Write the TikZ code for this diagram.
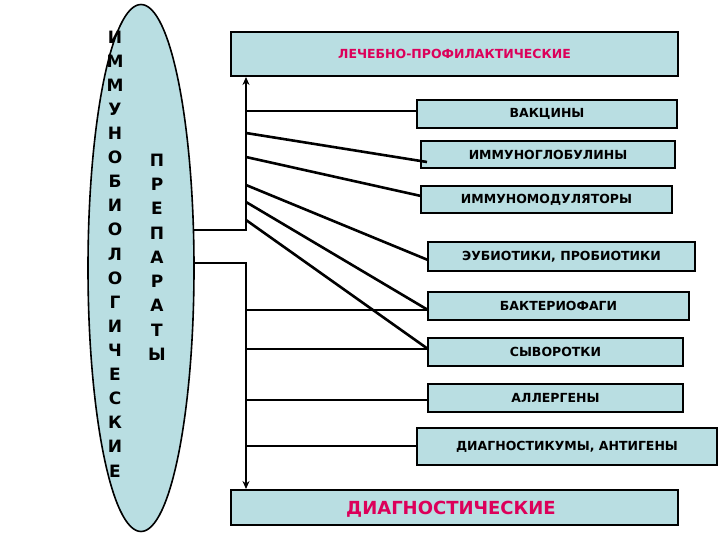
\documentclass[tikz,border=0pt]{standalone}
\usepackage{fontspec}
\setmainfont{DejaVu Sans}
\usetikzlibrary{arrows.meta,shapes.geometric}
\definecolor{boxc}{RGB}{185,222,226}
\definecolor{redt}{RGB}{220,0,90}
\begin{document}
\begin{tikzpicture}[x=1pt,y=-1pt,
  bx/.style={draw=black,line width=1.8pt,fill=boxc},
  ln/.style={line width=2.6pt},
  lab/.style={font=\bfseries\fontsize{12.5}{13}\selectfont},
  let/.style={font=\bfseries\fontsize{17}{17}\selectfont}]
\useasboundingbox (0,0) rectangle (720,540);
\node[ellipse,draw=black,line width=1.6pt,fill=boxc,minimum width=106pt,minimum height=527pt,inner sep=0pt] (E) at (141,268) {};
\foreach \c [count=\i from 0] in {И,М,М,У,Н,О,Б,И,О,Л,О,Г,И,Ч,Е,С,К,И,Е}
  \node[let] at (115,37+24.1*\i) {\c};
\foreach \c [count=\i from 0] in {П,Р,Е,П,А,Р,А,Т,Ы}
  \node[let] at (157,160+24.3*\i) {\c};
\newcommand\bxx[6]{\path[bx] (#2,#3) rectangle (#4,#5); \node[lab] (#1) at ({(#2+#4)/2},{(#3+#5)/2}) {#6};
  \coordinate (#1w) at (#2,{(#3+#5)/2});}
\bxx{T}{231}{32}{678}{76}{\textcolor{redt}{ЛЕЧЕБНО-ПРОФИЛАКТИЧЕСКИЕ}}
\bxx{b1}{417}{100}{677}{128}{ВАКЦИНЫ}
\bxx{b2}{421}{141}{675}{168}{ИММУНОГЛОБУЛИНЫ}
\bxx{b3}{421}{186}{672}{213}{ИММУНОМОДУЛЯТОРЫ}
\bxx{b4}{428}{242}{695}{271}{ЭУБИОТИКИ, ПРОБИОТИКИ}
\bxx{b5}{428}{292}{689}{320}{БАКТЕРИОФАГИ}
\bxx{b6}{428}{338}{683}{366}{СЫВОРОТКИ}
\bxx{b7}{428}{384}{683}{412}{АЛЛЕРГЕНЫ}
\bxx{b8}{417}{428}{717}{465}{ДИАГНОСТИКУМЫ, АНТИГЕНЫ}
\path[bx] (231,490) rectangle (678,525);
\node[font=\bfseries\fontsize{18}{18}\selectfont,text=redt] (B) at (451,509) {ДИАГНОСТИЧЕСКИЕ};
\coordinate (Tb) at (246,77);
\coordinate (Bt) at (246,489);
\draw[ln,-{Stealth[length=8pt,width=7pt]}] (193,230) -| (Tb);
\draw[ln,-{Stealth[length=8pt,width=7pt]}] (193,263) -| (Bt);
\draw[ln] (246,111) -- (417,111);
\draw[ln] (246,133) -- (427,162);
\draw[ln] (246,157) -- (421,196);
\draw[ln] (246,185) -- (428,260);
\draw[ln] (246,202) -- (428,310);
\draw[ln] (246,220) -- (428,349);
\draw[ln] (246,310) -- (428,310);
\draw[ln] (246,349) -- (428,349);
\draw[ln] (246,400) -- (428,400);
\draw[ln] (246,446) -- (417,446);
\end{tikzpicture}
\end{document}
